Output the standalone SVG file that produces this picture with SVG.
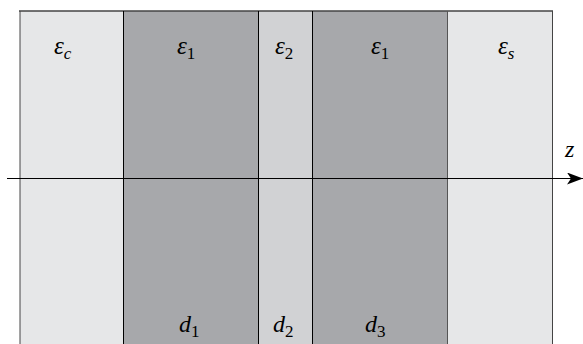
<svg xmlns="http://www.w3.org/2000/svg" width="583" height="344" viewBox="0 0 583 344">
<defs>
<style>
.t{font-family:"Liberation Serif","Times New Roman",serif;font-style:italic;font-size:24px;fill:#000}
.e{font-size:25px}
.s{font-style:normal;font-size:17px}
.si{font-style:italic;font-size:17px}
.b{stroke:#000;stroke-width:1}
</style>
<marker id="ah" markerWidth="16" markerHeight="12" refX="16" refY="6" orient="auto" markerUnits="userSpaceOnUse">
<path d="M0,0 L16,6 L0,12 L4,6 Z" fill="#000"/>
</marker>
</defs>
<g id="layer-c"><rect x="20" y="11" width="103.5" height="340" fill="#e6e7e8"/>
<text class="t e" x="54" y="54">ε<tspan class="si" dy="5">c</tspan></text></g>
<g id="layer-1a"><rect x="123.5" y="11" width="135" height="340" fill="#a7a8ab"/>
<text class="t e" x="177" y="54">ε<tspan class="s" dy="5">1</tspan></text>
<text class="t" x="179" y="332">d<tspan class="s" dy="5">1</tspan></text></g>
<g id="layer-2"><rect x="258.5" y="11" width="54" height="340" fill="#d1d2d4"/>
<text class="t e" x="275" y="54">ε<tspan class="s" dy="5">2</tspan></text>
<text class="t" x="273" y="332">d<tspan class="s" dy="5">2</tspan></text></g>
<g id="layer-1b"><rect x="312.5" y="11" width="135" height="340" fill="#a7a8ab"/>
<text class="t e" x="371" y="54">ε<tspan class="s" dy="5">1</tspan></text>
<text class="t" x="365" y="332">d<tspan class="s" dy="5">3</tspan></text></g>
<g id="layer-s"><rect x="447.5" y="11" width="105" height="340" fill="#e6e7e8"/>
<text class="t e" x="498" y="54">ε<tspan class="si" dy="5">s</tspan></text></g>
<g id="borders" fill="none">
<line x1="19" y1="11" x2="553" y2="11" stroke="#444" stroke-width="1.5"/>
<line x1="20" y1="11" x2="20" y2="344" stroke="#444" stroke-width="1"/>
<line x1="552.5" y1="11" x2="552.5" y2="344" stroke="#444" stroke-width="1"/>
<line class="b" x1="123.5" y1="11" x2="123.5" y2="344"/>
<line class="b" x1="258.5" y1="11" x2="258.5" y2="344"/>
<line class="b" x1="312.5" y1="11" x2="312.5" y2="344"/>
<line x1="447.5" y1="11" x2="447.5" y2="344" stroke="#555" stroke-width="1"/>
</g>
<g id="connectors">
<line x1="7" y1="178.5" x2="583" y2="178.5" stroke="#000" stroke-width="1.2" marker-end="url(#ah)"/>
</g>
<g id="axis-label"><text class="t" x="565" y="157">z</text></g>
</svg>
